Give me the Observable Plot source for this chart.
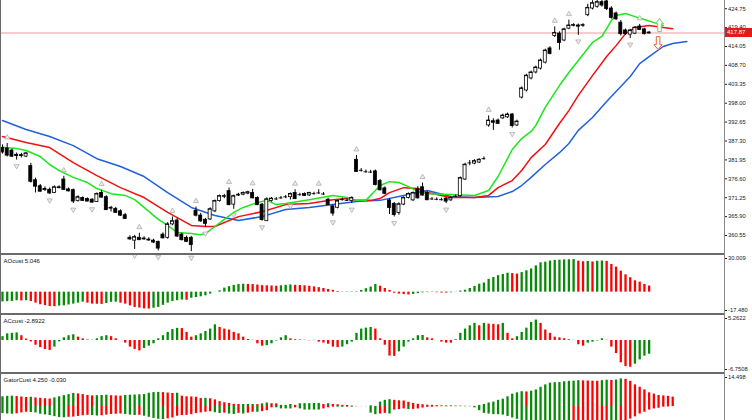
<!DOCTYPE html>
<html><head><meta charset="utf-8">
<script src="https://cdn.jsdelivr.net/npm/d3@7"></script>
<script src="https://cdn.jsdelivr.net/npm/@observablehq/plot@0.6"></script>
<style>
html,body{margin:0;padding:0;background:#fff;overflow:hidden}
#chart{position:relative;width:752px;height:420px;overflow:hidden;background:#fff;font-family:"Liberation Sans",Arial,sans-serif}
#chart svg{position:absolute;left:0}
.hl{position:absolute;left:0;width:725px;height:2px;background:#6a6a6a}
.vl{position:absolute;top:0;width:1px;height:420px;background:#8a8a8a}
#pricebox{position:absolute;left:725px;width:27px;height:9px;background:#e01b1b;color:#fff;font-size:6px;line-height:9px;padding-left:2px;box-sizing:border-box}
</style></head><body>
<div id="chart"></div>
<script>
// ---------- DATA ----------
const candleOpen = [
385.3,385.2,384.6,383.4,383.3,382.9,380.2,376.2,374.5,373.7,
373.5,372.6,374.2,376.4,373.6,373.4,370.3,371.2,370.9,370.7,
370.0,372.6,371.4,368.4,368.1,367.4,366.3,359.9,359.1,359.9,
359.7,359.4,359.1,358.7,360.8,359.9,363.7,364.8,360.8,359.9,
359.9,367.5,366.2,365.0,365.1,367.4,370.3,371.6,373.1,369.3,
372.1,372.1,372.4,372.6,371.2,369.3,364.6,370.3,370.9,371.2,
371.5,371.4,372.6,372.1,372.3,371.9,372.4,372.6,372.3,370.7,
368.8,368.4,370.7,370.5,370.3,382.0,379.0,378.6,378.5,378.7,
376.0,373.9,370.5,369.5,366.9,369.3,371.2,370.5,373.6,374.2,
372.6,370.9,370.8,370.7,371.0,370.5,371.7,371.7,376.4,381.1,
380.9,381.2,382.3,391.7,392.9,393.1,393.7,394.0,394.8,391.7,
399.6,401.6,405.0,406.7,407.8,409.5,413.5,417.0,417.7,415.75,
419.1,420.0,420.0,420.0,422.9,424.8,425.3,426.6,426.8,424.8,
423.4,420.8,418.6,417.4,417.7,419.7,418.9,418.0];
const candleHigh = [
386.2,386.6,385.0,383.9,383.8,384.0,381.0,376.8,375.0,374.3,
374.0,374.6,374.6,377.3,374.0,373.7,371.8,371.5,371.2,371.0,
372.6,373.4,371.8,368.8,368.5,367.8,366.8,360.5,360.6,361.2,
360.2,359.9,359.5,359.0,361.3,364.2,365.8,365.3,361.2,360.4,
360.3,368.6,366.8,365.4,368.4,370.6,372.0,372.2,374.0,372.0,
372.5,372.9,373.1,373.6,371.5,369.6,371.2,371.3,371.3,371.6,
371.9,372.6,373.5,372.5,372.6,372.8,372.8,373.5,372.7,371.1,
369.2,370.6,371.1,371.0,371.5,383.2,379.5,379.1,379.0,379.1,
376.4,374.3,371.0,369.9,369.8,371.5,372.6,372.9,374.4,375.4,
373.0,371.3,371.2,371.1,371.3,371.5,372.0,377.1,381.0,381.8,
382.0,382.3,382.8,394.4,393.6,393.5,394.9,395.2,395.1,393.2,
402.6,406.2,407.1,408.5,410.5,413.3,414.0,419.6,418.2,419.2,
421.5,420.5,420.4,420.5,426.0,427.0,427.5,427.5,427.2,425.3,
423.8,421.4,419.0,418.9,419.7,420.3,419.2,418.3];
const candleLow = [
383.6,382.8,382.6,381.9,382.5,382.6,375.4,372.6,372.8,373.0,
372.2,372.4,373.8,373.4,372.9,369.6,370.0,370.2,370.1,369.7,
369.9,371.2,367.6,367.2,366.9,366.0,365.1,359.2,356.6,359.1,
359.2,358.9,358.3,356.2,359.6,359.5,363.3,360.0,359.0,358.6,
356.0,365.8,364.3,362.8,364.8,367.0,370.0,371.0,369.0,368.0,
371.6,371.8,372.1,371.0,369.0,364.6,364.8,370.0,370.5,370.8,
371.0,370.6,370.8,371.7,371.6,371.6,372.0,372.2,371.9,369.1,
366.0,368.1,370.3,370.2,369.6,378.4,378.5,378.2,378.1,374.6,
373.2,372.1,366.5,365.8,366.3,369.0,370.9,370.2,370.9,371.7,
370.4,370.5,370.4,370.3,369.6,370.2,371.3,371.4,376.1,380.3,
380.6,380.9,381.9,391.2,390.3,392.0,393.4,393.7,391.0,391.4,
399.2,401.2,404.6,406.3,407.4,409.1,411.7,416.6,413.0,415.4,
418.8,419.6,417.2,419.5,422.5,424.4,424.9,425.2,424.2,421.8,
421.4,417.0,417.2,416.3,417.4,418.6,417.3,417.6];
const candleClose = [
384.2,383.3,383.0,383.2,383.2,383.8,375.9,374.5,373.1,373.6,
372.6,374.2,374.1,373.6,373.2,370.3,371.4,370.5,370.3,370.0,
372.3,371.4,367.9,368.3,367.1,366.3,365.4,359.6,360.1,359.4,
359.6,359.3,358.7,357.0,359.9,363.7,364.6,360.4,359.4,358.9,
358.0,366.3,364.7,364.0,368.0,370.3,371.7,371.7,369.3,371.7,
372.0,372.6,372.8,371.2,369.3,365.1,370.8,371.0,370.9,371.2,
371.5,372.3,371.0,372.1,371.9,372.6,372.4,372.6,372.3,369.3,
366.9,370.3,370.7,370.5,371.2,378.7,379.0,378.6,378.5,375.0,
373.5,372.5,368.5,366.5,369.4,371.2,372.3,372.6,371.2,372.0,
370.7,370.9,370.8,370.7,370.3,371.2,371.7,376.8,380.6,381.1,
381.6,382.0,382.3,393.1,392.6,392.3,394.5,394.8,391.7,392.8,
402.2,405.8,406.7,408.1,410.1,412.9,412.1,417.9,415.2,418.9,
420.0,420.1,419.8,420.1,425.0,426.3,426.6,425.8,424.8,422.3,
421.9,417.7,417.7,418.6,419.4,418.9,417.7,417.87];

const jawBars   = [0,5,10,15,20,25,30,35,40,45,50,55,60,65,70,75,80,85,90,95,100,105,108,110,112,115,118,120,122,125,128,130,133,135,137,140,142,145];
const jawValues = [393.1,390.55,388.57,386.0,382.3,380.1,377.25,372.7,368.5,366.2,364.8,365.9,367.9,368.5,369.3,370.2,370.5,371.9,373.3,371.6,371.3,371.6,373.0,374.7,377.0,380.65,384.0,386.6,390.3,393.95,398.5,401.3,405.55,409.2,411.2,414.05,414.9,415.45];
const teethBars   = [0,5,10,15,20,25,30,35,40,43,45,50,55,60,65,70,73,75,78,80,82,85,88,90,95,100,103,105,108,110,112,115,118,120,122,125,128,130,132,134,137,140,142];
const teethValues = [388.6,386.9,385.45,381.2,377.5,374.1,371.3,367.1,363.4,363.1,363.1,365.9,367.3,369.3,369.6,370.7,371.0,370.5,370.5,371.0,372.7,374.1,373.85,372.7,371.3,371.3,371.9,374.1,376.1,378.95,382.6,386.3,392.25,395.9,400.2,405.8,411.2,414.3,417.7,419.4,420.0,419.4,419.1];
const lipsBars   = [0,3,5,8,10,12,15,18,20,23,26,28,30,33,35,37,40,42,43,45,47,49,51,54,56,58,60,65,70,73,75,77,79,80,82,84,86,88,90,95,100,103,105,107,108,110,112,113,115,118,120,122,125,127,128,129,130,132,134,136,138,140];
const lipsValues = [385.5,385.2,384.6,382.9,380.65,378.95,377.0,375.55,373.85,372.4,371.9,370.7,368.5,365.1,363.4,361.4,361.1,360.8,361.1,363.1,365.1,367.1,368.5,369.9,370.5,369.3,369.6,370.7,371.9,371.3,370.5,370.5,373.3,374.7,375.8,375.55,374.4,373.0,372.4,372.15,371.9,373.3,377.25,382.3,384.9,388.0,390.0,391.7,396.8,403.0,406.7,410.1,415.2,416.9,419.1,421.4,422.8,423.4,422.5,421.7,420.8,420.0];

const fractalUpBars   = [1,13,21,29,36,41,48,53,62,67,75,89,103,117,120,135];
const fractalDownBars = [3,10,15,19,28,33,40,43,49,55,61,70,74,83,94,108,122,133];
const signalUp   = {bar: 139.2, price: 420.1};
const signalDown = {bar: 138.9, price: 415.0};

const priceTicks = [424.75,419.40,414.05,408.70,403.35,398.00,392.65,387.30,381.95,376.60,371.25,365.90,360.55];
const lastPrice = 417.87;

const aoValues = [
-8.0,-7.8,-7.6,-7.0,-7.2,-7.0,-7.7,-9.0,-10.3,-11.0,
-11.8,-11.9,-11.4,-11.2,-10.5,-9.8,-9.0,-8.2,-9.0,-9.8,
-9.9,-10.0,-9.3,-8.3,-8.2,-9.0,-9.8,-11.2,-12.5,-13.0,
-13.7,-13.8,-13.2,-12.5,-10.8,-9.0,-7.7,-7.0,-6.5,-6.6,
-5.0,-4.5,-3.8,-3.0,-1.6,-0.1,1.1,3.3,4.5,5.5,
6.2,6.5,6.3,6.2,5.8,5.3,5.2,5.0,4.8,5.2,
5.6,5.9,5.6,5.4,5.2,4.8,4.3,3.7,3.0,2.2,
1.5,0.6,0.2,-0.2,-0.3,0.3,1.4,2.8,4.2,6.3,
4.9,3.0,1.4,-0.9,-1.6,-2.0,-2.3,-1.9,-1.2,-0.6,
-0.4,-0.3,-0.5,-0.7,-0.8,-0.5,-0.1,0.9,1.6,3.0,
4.7,6.5,7.5,10.5,12.0,13.5,14.5,15.5,15.2,14.8,
16.0,17.5,19.0,21.5,24.0,24.5,25.5,26.0,26.2,26.4,
26.5,26.7,25.4,24.9,25.1,24.7,25.3,25.5,25.2,22.7,
20.5,17.2,14.2,11.8,9.3,8.2,6.3,5.046];
const aoRange = [-17.48, 30.009];

const acValues = [
0.8,1.4,1.5,1.6,1.0,0.3,-0.3,-1.0,-1.5,-1.9,
-2.1,-1.4,-0.3,0.55,1.0,1.2,0.7,0.35,0.1,0.05,
0.35,0.8,1.0,0.8,0.35,0.0,-0.55,-1.4,-1.9,-2.2,
-1.7,-1.2,-0.7,0.35,1.0,1.7,2.3,2.55,2.5,1.7,
0.7,1.0,1.4,1.9,2.4,3.3,2.75,2.4,2.2,1.7,
1.4,0.7,0.2,0.05,-0.7,-1.2,-1.1,-0.7,-0.1,0.55,
1.0,0.35,0.15,0.1,0.05,-0.05,0.05,-0.35,-0.55,-0.8,
-1.4,-1.5,-1.4,-0.9,-0.35,1.5,2.4,2.6,2.75,2.4,
0.35,-1.0,-3.3,-3.35,-2.4,-1.4,-0.35,0.35,1.0,1.05,
0.55,0.35,0.0,-0.35,-0.55,-0.56,0.15,1.5,2.4,3.1,
3.6,3.1,3.6,3.45,3.4,3.3,3.6,1.5,0.35,0.8,
1.7,2.6,3.8,4.3,3.6,2.2,1.5,0.7,0.55,0.35,
0.15,0.02,-0.9,-1.2,-0.55,-0.35,-0.1,0.35,0.05,-1.4,
-2.75,-4.7,-5.5,-5.65,-5.0,-4.1,-3.3,-2.8922];
const acRange = [-6.7508, 5.2622];

const gatorUpper = [
4.4,4.6,4.7,4.5,4.3,4.1,4.2,3.9,3.7,3.5,
3.4,3.9,4.4,4.9,5.4,5.9,5.7,5.4,5.0,4.8,
4.9,5.0,5.1,4.9,4.8,4.7,5.0,5.1,5.2,5.3,
5.4,6.0,6.3,6.4,6.3,6.1,5.9,6.0,4.7,4.4,
4.3,4.2,3.6,3.7,3.5,3.0,2.2,1.7,1.4,1.0,
0.9,0.9,0.9,0.9,0.85,1.2,1.6,1.25,1.2,0.5,
0.5,0.9,0.5,1.25,1.3,1.3,1.35,1.4,0.9,1.25,
0.9,0.8,0.5,0.45,0.2,0.05,0.02,0.03,0.3,0.05,
2.0,2.8,3.1,2.8,2.6,2.5,1.9,1.4,1.0,0.8,
0.6,0.5,0.4,0.3,0.25,0.3,0.2,0.15,0.1,0.05,
0.05,0.5,0.9,1.6,2.0,2.8,3.3,4.4,5.6,6.2,
6.7,6.6,6.9,7.5,8.7,9.8,10.6,10.8,10.9,11.2,
11.4,11.5,11.7,11.6,11.55,11.5,11.45,11.7,11.9,11.8,
12.0,12.5,12.3,11.4,9.8,8.7,7.5,6.2,5.6,5.0,
4.8,4.6,4.25];
const gatorLower = [
-3.2,-3.4,-3.5,-3.3,-2.9,-2.6,-2.7,-2.9,-3.5,-3.8,
-4.1,-4.6,-5.0,-5.1,-4.9,-4.8,-4.5,-4.2,-4.0,-4.1,
-4.3,-4.2,-3.9,-3.6,-3.5,-3.4,-3.6,-3.9,-4.1,-4.0,
-4.4,-4.9,-5.4,-5.8,-5.9,-5.6,-5.2,-4.4,-4.1,-4.0,
-3.7,-3.2,-2.9,-2.6,-2.4,-2.8,-3.2,-3.0,-3.4,-3.6,
-3.1,-3.4,-3.0,-2.6,-2.6,-2.3,-1.9,-0.6,-0.6,-1.1,
-1.1,-1.1,-0.6,-1.1,-1.6,-1.6,-1.6,-1.6,-1.1,-0.6,
-0.3,-0.3,-0.35,-0.3,-0.3,-0.1,-0.05,-0.05,-3.0,-3.7,
-3.4,-3.1,-3.4,-1.6,-1.4,-1.1,-1.4,-1.3,-1.1,-0.7,
-0.4,-0.3,-0.15,-0.1,-0.15,-0.1,-0.1,-0.1,-0.1,-0.1,
-0.6,-1.9,-3.1,-3.4,-3.7,-3.7,-3.9,-4.5,-5.2,-5.8,
-6.8,-7.5,-8.0,-8.6,-9.2,-9.8,-10.2,-10.5,-10.7,-10.8,
-10.8,-10.6,-10.2,-10.0,-9.8,-9.4,-9.0,-8.4,-7.9,-8.2,
-8.5,-7.6,-6.5,-5.7,-4.7,-3.4,-2.6,-1.6,-1.1,-0.8,
-0.3,-0.2,-0.03];
const gatorTop = 14.498;

// ---------- RENDER ----------
const GREEN = "#078a07", RED = "#ff0000";
const FONT = "Liberation Sans, Arial, sans-serif";
const X_DOMAIN = [-0.42, 152.97];
const chart = document.getElementById("chart");
const place = (el, top) => { el.style.top = top + "px"; chart.appendChild(el); return el; };
const div = (cls) => { const d = document.createElement("div"); d.className = cls; return d; };

const common = {
  width: 752, marginLeft: 0, marginRight: 28, marginTop: 0, marginBottom: 0,
  x: {domain: X_DOMAIN, axis: null},
  color: {type: "identity"},
  style: {fontFamily: FONT, fontSize: "6px", color: "#222", background: "transparent", overflow: "visible"}
};
const axisOpts = {anchor: "right", tickSize: 2, tickPadding: 1.5, fontSize: 5.8, label: null};

// hollow block arrows (signal markers)
const arrowUp = {draw(ctx) {
  ctx.moveTo(0, -6.5); ctx.lineTo(4, -1.5); ctx.lineTo(1.8, -1.5); ctx.lineTo(1.8, 6.5);
  ctx.lineTo(-1.8, 6.5); ctx.lineTo(-1.8, -1.5); ctx.lineTo(-4, -1.5); ctx.closePath();
}};
const arrowDown = {draw(ctx) {
  ctx.moveTo(0, 6.5); ctx.lineTo(4, 1.5); ctx.lineTo(1.8, 1.5); ctx.lineTo(1.8, -6.5);
  ctx.lineTo(-1.8, -6.5); ctx.lineTo(-1.8, 1.5); ctx.lineTo(-4, 1.5); ctx.closePath();
}};

const bars = candleOpen.map((o, i) => ({i, o, h: candleHigh[i], l: candleLow[i], c: candleClose[i]}));
const pts = (b, v) => b.map((i, k) => ({i, v: v[k]}));
const colored = (arr, cmp) => arr.map((v, i) => ({i, v, col: i === 0 || cmp(v, arr[i - 1]) ? GREEN : RED}));

const main = Plot.plot({
  ...common, height: 253,
  y: {domain: [355.46, 427.07]},
  marks: [
    Plot.ruleY([lastPrice], {stroke: "#f29a9a", strokeWidth: 1}),
    Plot.line(pts(jawBars, jawValues), {x: "i", y: "v", stroke: "#2060dc", strokeWidth: 1.5}),
    Plot.line(pts(teethBars, teethValues), {x: "i", y: "v", stroke: "#f01010", strokeWidth: 1.5}),
    Plot.line(pts(lipsBars, lipsValues), {x: "i", y: "v", stroke: "#1ee61e", strokeWidth: 1.5}),
    Plot.ruleX(bars, {x: "i", y1: "l", y2: "h", stroke: "#000", strokeWidth: 1}),
    Plot.rect(bars, {x1: d => d.i - 0.32, x2: d => d.i + 0.32, y1: "o", y2: "c",
      fill: d => d.c >= d.o ? "#fff" : "#000", stroke: "#000", strokeWidth: 0.8}),
    Plot.ruleY(bars, {y: "c", x1: d => d.i - 0.4, x2: d => d.i + 0.4, stroke: "#000", strokeWidth: 0.9}),
    Plot.dot(fractalUpBars, {x: d => d, y: d => candleHigh[d], dy: -6, symbol: "triangle", r: 1.9,
      fill: "#ececec", stroke: "#a6a6a6", strokeWidth: 0.7}),
    Plot.dot(fractalDownBars, {x: d => d, y: d => candleLow[d], dy: 6, symbol: "triangle", rotate: 180, r: 1.9,
      fill: "#ececec", stroke: "#a6a6a6", strokeWidth: 0.7}),
    Plot.dot([signalUp], {x: "bar", y: "price", symbol: arrowUp, fill: "#fff", stroke: "#5ed85e", strokeWidth: 1}),
    Plot.dot([signalDown], {x: "bar", y: "price", symbol: arrowDown, fill: "#fff", stroke: "#f2603a", strokeWidth: 1}),
    Plot.axisY(priceTicks, {...axisOpts, tickFormat: d => d.toFixed(2)})
  ]
});
place(main, 0);

const pb = place(div(""), main.scale("y").apply(lastPrice) - 4.5);
pb.id = "pricebox"; pb.textContent = lastPrice.toFixed(2);

place(div("hl"), 253);

const ao = Plot.plot({
  ...common, height: 58,
  y: {domain: aoRange},
  marks: [
    Plot.ruleX(colored(aoValues, (a, b) => a >= b), {x: "i", y1: 0, y2: "v", stroke: "col", strokeWidth: 2.3}),
    Plot.text([`AOcust ${aoValues[aoValues.length - 1].toFixed(3)}`], {frameAnchor: "top-left", dx: 3, dy: 3, lineAnchor: "top", textAnchor: "start", fontSize: 6, fill: "#111"}),
    Plot.axisY([aoRange[1]], {...axisOpts, tickFormat: d => d.toFixed(3), dy: 3}),
    Plot.axisY([aoRange[0]], {...axisOpts, tickFormat: d => d.toFixed(3), dy: -3})
  ]
});
place(ao, 255);
place(div("hl"), 313);

const ac = Plot.plot({
  ...common, height: 57,
  y: {domain: acRange},
  marks: [
    Plot.ruleX(colored(acValues, (a, b) => a >= b), {x: "i", y1: 0, y2: "v", stroke: "col", strokeWidth: 2.3}),
    Plot.text([`ACcust ${acValues[acValues.length - 1].toFixed(4)}`], {frameAnchor: "top-left", dx: 3, dy: 3, lineAnchor: "top", textAnchor: "start", fontSize: 6, fill: "#111"}),
    Plot.axisY([acRange[1]], {...axisOpts, tickFormat: d => d.toFixed(4), dy: 3}),
    Plot.axisY([acRange[0]], {...axisOpts, tickFormat: d => d.toFixed(4), dy: -3})
  ]
});
place(ac, 315);
place(div("hl"), 372);

const gator = Plot.plot({
  ...common, height: 46,
  y: {domain: [-6.34, gatorTop]},
  marks: [
    Plot.ruleX(colored(gatorUpper, (a, b) => a >= b), {x: "i", y1: 0, y2: "v", stroke: "col", strokeWidth: 2.3}),
    Plot.ruleX(colored(gatorLower, (a, b) => Math.abs(a) >= Math.abs(b)), {x: "i", y1: 0, y2: "v", stroke: "col", strokeWidth: 2.3}),
    Plot.text([`GatorCust ${gatorUpper[gatorUpper.length - 1].toFixed(3)} ${gatorLower[gatorLower.length - 1].toFixed(3)}`], {frameAnchor: "top-left", dx: 3, dy: 3, lineAnchor: "top", textAnchor: "start", fontSize: 6, fill: "#111"}),
    Plot.axisY([gatorTop], {...axisOpts, tickFormat: d => d.toFixed(3), dy: 3})
  ]
});
place(gator, 374);

const vAxis = place(div("vl"), 0); vAxis.style.left = "724px";
const vLeft = place(div("vl"), 0); vLeft.style.left = "0px"; vLeft.style.background = "#6a6a6a";
</script></body></html>
